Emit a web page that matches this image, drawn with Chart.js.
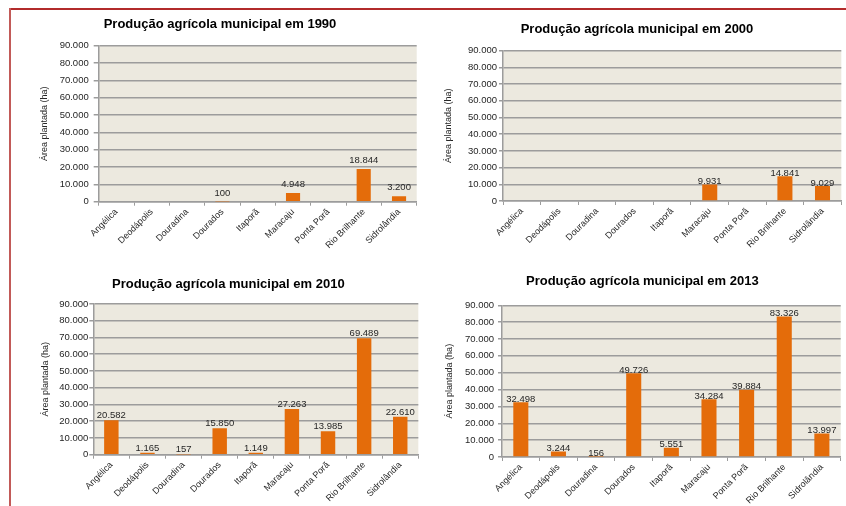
<!DOCTYPE html>
<html>
<head>
<meta charset="utf-8">
<script src="https://cdn.jsdelivr.net/npm/chart.js@4"></script>
<style>
  body { margin: 0; background: #fff; }
  #wrap { position: relative; width: 846px; height: 506px; overflow: hidden; }
  canvas { position: absolute; }
  .frameTop { position: absolute; left: 9px; top: 8px; width: 837px; height: 1.5px; background: #b22b2b; }
  .frameLeft { position: absolute; left: 9px; top: 8px; width: 2px; height: 498px; background: #c25a58; }
</style>
</head>
<body>
<div id="wrap">
  <div class="frameTop"></div>
  <div class="frameLeft"></div>
  <canvas id="c1990" width="423" height="253" style="left:0;top:0"></canvas>
  <canvas id="c2000" width="423" height="253" style="left:423px;top:0"></canvas>
  <canvas id="c2010" width="423" height="253" style="left:0;top:253px"></canvas>
  <canvas id="c2013" width="423" height="253" style="left:423px;top:253px"></canvas>
</div>
<script>
const municipios = ['Angélica', 'Deodápolis', 'Douradina', 'Dourados', 'Itaporã', 'Maracaju', 'Ponta Porã', 'Rio Brilhante', 'Sidrolândia'];
const area1990 = [null, null, null, 100, null, 4948, null, 18844, 3200];
const area2000 = [null, null, null, null, null, 9931, null, 14841, 9029];
const area2010 = [20582, 1165, 157, 15850, 1149, 27263, 13985, 69489, 22610];
const area2013 = [32498, 3244, 156, 49726, 5551, 34284, 39884, 83326, 13997];
const yMax = 90000;
const yStep = 10000;
const yTitle = 'Área plantada (ha)';

const FONT = '"Liberation Sans", Arial, sans-serif';
const BAR = '#e46c0a';
const GRID = '#9c9c9c';
const TEXT = '#262626';

// pt-BR style thousands separator
function fmt(v) {
  return String(v).replace(/\B(?=(\d{3})+(?!\d))/g, '.');
}

const plotBg = {
  id: 'plotBg',
  beforeDraw(chart) {
    const a = chart.chartArea;
    chart.ctx.save();
    chart.ctx.fillStyle = '#ece9df';
    chart.ctx.fillRect(a.left, a.top, a.right - a.left, a.bottom - a.top);
    chart.ctx.restore();
  }
};

const valueLabels = {
  id: 'valueLabels',
  afterDatasetsDraw(chart, args, opts) {
    const ctx = chart.ctx;
    const values = chart.data.datasets[0].data;
    ctx.save();
    ctx.font = '9.5px ' + FONT;
    ctx.fillStyle = TEXT;
    ctx.textAlign = 'center';
    ctx.textBaseline = 'alphabetic';
    chart.getDatasetMeta(0).data.forEach((bar, i) => {
      if (values[i] === null) return;
      ctx.fillText(fmt(values[i]), bar.x, bar.y - opts.offset);
    });
    ctx.restore();
  }
};

function makeChart(id, year, values, box) {
  new Chart(document.getElementById(id), {
    type: 'bar',
    data: {
      labels: municipios,
      datasets: [{
        data: values,
        backgroundColor: BAR,
        barPercentage: 0.4,
        categoryPercentage: 1,
      }],
    },
    options: {
      responsive: false,
      animation: false,
      layout: { padding: { left: box.padL, right: box.padR, top: 0, bottom: 0 } },
      plugins: {
        legend: { display: false },
        tooltip: { enabled: false },
        title: {
          display: true,
          text: 'Produção agrícola municipal em ' + year,
          color: '#000',
          font: { family: FONT, size: 13, weight: 'bold' },
          padding: { top: box.titleTop, bottom: box.titleBottom },
        },
        valueLabels: { offset: box.labelOffset },
      },
      scales: {
        x: {
          grid: { display: true, drawOnChartArea: false, offset: true, color: GRID, tickLength: 4 },
          border: { display: true, color: GRID, width: 1.5 },
          ticks: {
            color: TEXT, font: { family: FONT, size: 9 },
            minRotation: 45, maxRotation: 45, autoSkip: false, padding: 1,
          },
          afterFit(scale) { scale.height = box.xHeight; },
        },
        y: {
          min: 0,
          max: yMax,
          grid: { color: GRID, lineWidth: 1.5, tickLength: box.tickLen },
          border: { display: true, color: GRID, width: 1.5 },
          ticks: {
            stepSize: yStep, color: TEXT, font: { family: FONT, size: 9.5 },
            padding: box.tickPad,
            callback: (v) => fmt(v),
          },
          title: {
            display: true, text: yTitle, color: TEXT,
            font: { family: FONT, size: 9 },
            padding: { top: box.yTitlePad, bottom: 0 },
          },
          afterFit(scale) { scale.width = box.yWidth; },
        },
      },
    },
    plugins: [plotBg, valueLabels],
  });
}

makeChart('c1990', 1990, area1990, {
  padL: 23.3, padR: 6.3, yWidth: 75.4, yTitlePad: 16.3,
  titleTop: 16.7, titleBottom: 13.4, xHeight: 51.3,
  tickLen: 5, tickPad: 5, labelOffset: 6,
});
makeChart('c2000', 2000, area2000, {
  padL: 9.7, padR: 4.7, yWidth: 70.3, yTitlePad: 10.7,
  titleTop: 21.9, titleBottom: 13.2, xHeight: 52,
  tickLen: 4, tickPad: 2, labelOffset: 0,
});
makeChart('c2010', 2010, area2010, {
  padL: 38.3, padR: 4.7, yWidth: 55, yTitlePad: 2.1,
  titleTop: 23.5, titleBottom: 11.9, xHeight: 51.3,
  tickLen: 4, tickPad: 1, labelOffset: 2,
});
makeChart('c2013', 2013, area2013, {
  padL: 20.9, padR: 5.3, yWidth: 58.1, yTitlePad: 0.4,
  titleTop: 20.5, titleBottom: 16.2, xHeight: 49,
  tickLen: 4, tickPad: 4, labelOffset: 0.5,
});
</script>
</body>
</html>
